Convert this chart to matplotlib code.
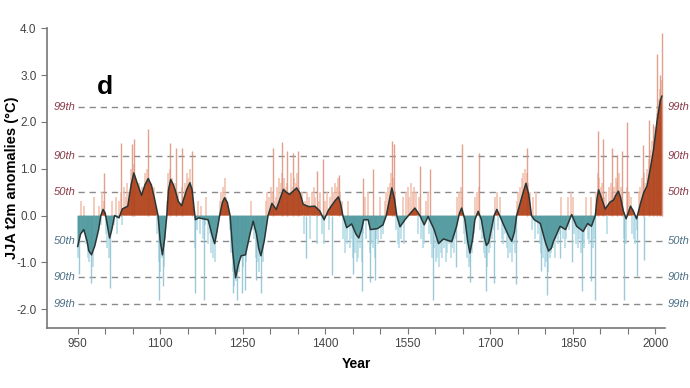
import numpy as np
import matplotlib
matplotlib.use("Agg")
import matplotlib.pyplot as plt

plt.rcParams["font.family"] = ["Liberation Sans", "DejaVu Sans"]

# smoothed series (knots)
smooth_years = [950, 955, 961, 967, 970, 975, 981, 988, 992, 996, 1000, 1003, 1008, 1012, 1017,
                1025, 1031, 1041, 1047, 1052, 1058, 1066, 1072, 1078, 1084, 1090, 1096, 1100,
                1104, 1108, 1112, 1115, 1119, 1123, 1127, 1133, 1139, 1148, 1154, 1158, 1162,
                1164, 1170, 1178, 1187, 1195, 1199, 1203, 1208, 1213, 1217, 1222, 1227, 1232,
                1237, 1242, 1247, 1255, 1264, 1269, 1275, 1279, 1283, 1289, 1296, 1303, 1311,
                1319, 1324, 1329, 1335, 1348, 1354, 1360, 1370, 1381, 1390, 1398, 1406, 1418,
                1424, 1428, 1432, 1439, 1448, 1456, 1461, 1466, 1470, 1478, 1482, 1495, 1505,
                1511, 1517, 1521, 1526, 1530, 1536, 1545, 1557, 1563, 1572, 1580, 1587, 1598,
                1606, 1615, 1630, 1639, 1644, 1648, 1654, 1659, 1663, 1668, 1672, 1678, 1684,
                1689, 1693, 1697, 1700, 1707, 1712, 1717, 1724, 1734, 1739, 1744, 1748, 1760,
                1765, 1770, 1775, 1780, 1791, 1801, 1806, 1811, 1815, 1827, 1837, 1848, 1857,
                1869, 1877, 1884, 1891, 1894, 1897, 1901, 1909, 1918, 1924, 1929, 1933, 1937,
                1942, 1947, 1955, 1960, 1966, 1973, 1979, 1985, 1991, 1997, 2003, 2009, 2012]
smooth_vals = [-0.66, -0.40, -0.30, -0.55, -0.75, -0.84, -0.65, -0.30, 0.0, 0.13, 0.05, -0.15, -0.48, -0.30, 0.0,
               -0.05, 0.14, 0.20, 0.65, 0.91, 0.70, 0.43, 0.65, 0.79, 0.65, 0.34, 0.0, -0.55,
               -0.84, -0.50, 0.0, 0.55, 0.77, 0.68, 0.55, 0.30, 0.21, 0.55, 0.70, 0.55, 0.10,
               -0.09, -0.05, -0.07, -0.09, -0.45, -0.60, -0.35, 0.0, 0.28, 0.38, 0.28, 0.0, -0.80,
               -1.33, -1.05, -0.86, -0.84, -0.35, -0.12, -0.40, -0.70, -0.86, -0.55, 0.0, 0.26, 0.13,
               0.40, 0.56, 0.50, 0.45, 0.59, 0.48, 0.24, 0.19, 0.20, 0.10, -0.09, 0.12, 0.32,
               0.40, 0.25, 0.0, -0.26, -0.18, -0.40, -0.48, -0.30, -0.09, -0.09, -0.30, -0.28, -0.20,
               0.0, 0.35, 0.59, 0.35, 0.0, -0.24, -0.09, 0.08, 0.16, 0.0, -0.20, -0.02, -0.30,
               -0.60, -0.50, -0.56, -0.22, 0.05, 0.16, -0.09, -0.55, -0.80, -0.50, -0.09, 0.09, -0.09,
               -0.45, -0.64, -0.58, -0.41, 0.0, 0.13, 0.0, -0.19, -0.45, -0.55, -0.35, 0.0, 0.50,
               0.69, 0.45, 0.0, -0.09, -0.17, -0.60, -0.76, -0.70, -0.55, -0.23, -0.30, 0.02, -0.23,
               -0.34, -0.17, -0.23, 0.0, 0.35, 0.55, 0.42, 0.14, 0.29, 0.33, 0.45, 0.52, 0.38,
               0.10, -0.07, 0.20, 0.10, -0.07, 0.25, 0.49, 0.63, 1.00, 1.41, 2.00, 2.45, 2.55]

# background annual bars, one every 3 years from 950
haze_vals = [
    -0.9, -0.5, 0.3, -0.3, 0.2, -0.6, -0.9, -1.0, -0.7, -1.1,
    0.4, -0.5, -0.3, 0.2, -0.2, 0.5, 0.3, -0.4, -0.7, -0.9,
    -0.3, 0.3, -0.2, 0.4, -0.4, 0.3, 0.5, -0.2, 0.6, 0.4,
    0.7, 0.5, 1.0, 0.9, 1.1, 0.8, 0.6, 0.7, 0.3, 0.6,
    0.5, 0.9, 1.0, 0.8, 0.7, 0.4, 0.6, 0.2, -0.4, -1.0,
    -1.2, -0.9, -1.1, -0.5, 0.3, 0.9, 1.0, 0.8, 0.6, 0.7,
    0.4, 0.5, 0.2, 0.6, 0.4, 0.7, 0.9, 0.8, 1.0, 0.6,
    0.3, -0.7, -0.3, 0.3, -0.4, 0.2, -0.5, -0.2, 0.4, -0.6,
    -0.4, -0.8, -0.9, -1.0, -0.5, -0.2, 0.3, 0.5, 0.6, 0.8,
    0.4, 0.2, -0.3, -0.8, -1.2, -1.5, -1.4, -1.0, -1.2, -0.9,
    -1.1, -0.8, -1.0, -0.6, -0.4, 0.3, -0.3, -0.5, -0.9, -1.0,
    -1.2, -0.8, -1.0, -0.4, 0.3, 0.5, 0.4, 0.6, 0.5, 0.3,
    0.4, 0.6, 0.8, 0.7, 0.9, 0.8, 0.6, 0.7, 0.5, 0.9,
    0.6, 0.8, 0.7, 0.9, 0.6, 0.4, 0.5, -0.4, 0.3, 0.5,
    0.4, -0.5, 0.5, 0.6, 0.4, -0.6, 0.3, 0.5, -0.4, -0.6,
    0.3, 0.5, -0.3, 0.4, 0.6, 0.5, 0.7, 0.6, 0.8, 0.5,
    0.3, -0.5, -0.8, -0.6, 0.3, -0.7, -0.5, -0.9, -0.8, -1.0,
    -0.9, -0.7, -1.0, -0.4, 0.4, -0.5, 0.5, -0.8, -0.6, -0.7,
    -0.9, -0.5, -0.6, 0.4, -0.5, -0.4, 0.3, 0.5, 0.6, 0.7,
    0.9, 0.8, 0.5, -0.3, -0.6, -0.7, -0.5, 0.4, -0.6, 0.5,
    0.6, 0.4, 0.7, 0.5, 0.6, 0.5, -0.4, 0.4, -0.5, -0.7,
    -0.6, 0.3, 0.5, -0.4, -0.6, -0.9, -0.7, -1.0, -0.9, -1.1,
    -0.8, -0.9, -0.7, -1.0, -0.8, -0.6, -0.9, -0.7, -0.8, -0.5,
    0.4, 0.5, 0.6, 0.4, -0.4, -0.6, -0.9, -1.1, -1.0, -0.8,
    -0.4, 0.4, 0.5, 0.6, -0.3, -0.5, -0.8, -0.9, -1.1, -0.8,
    -0.7, -0.5, -0.3, 0.4, 0.5, -0.3, 0.4, -0.5, -0.6, -0.4,
    -0.7, -0.9, -0.8, -1.0, -0.6, -0.8, 0.3, 0.5, 0.6, 0.8,
    0.9, 1.0, 0.9, 0.7, 0.5, -0.3, 0.4, -0.5, 0.5, -0.4,
    -0.6, -0.8, -0.9, -1.1, -1.0, -1.2, -0.9, -0.8, -0.7, -0.9,
    -0.5, -0.6, -0.4, 0.4, -0.5, -0.7, -0.5, 0.4, -0.3, 0.5,
    0.4, -0.4, -0.6, -0.7, -0.5, -0.8, -0.6, -0.7, 0.4, -0.5,
    -0.6, 0.4, -0.7, -0.5, 0.5, 0.9, 0.8, 0.6, 0.7, 0.4,
    0.5, -0.4, 0.6, 0.7, 0.5, 0.6, 0.8, 0.7, 0.9, 0.6,
    0.5, -0.5, -0.6, 0.6, 0.5, 0.4, -0.4, -0.5, -0.6, -0.3,
    0.5, 0.6, 0.8, 0.9, 0.7, 1.0, 1.2, 1.4, 1.6, 1.7,
    1.9, 2.2, 2.5, 2.7, 2.9,
]

# individual extreme years
spike_years = [952, 975, 997, 1009, 1029, 1048, 1052, 1078, 1097, 1105, 1118, 1129, 1140, 1157,
               1163, 1179, 1233, 1239, 1248, 1255, 1275, 1284, 1305, 1322, 1330, 1342, 1351,
               1365, 1385, 1396, 1412, 1425, 1451, 1466, 1469, 1481, 1486, 1490, 1521, 1525,
               1573, 1590, 1596, 1637, 1649, 1663, 1680, 1693, 1707, 1747, 1767, 1792, 1803,
               1827, 1848, 1867, 1884, 1891, 1895, 1905, 1921, 1930, 1940, 1944, 1948, 1967,
               1978, 1980, 1988, 1996, 2003, 2008, 2012]
spike_vals = [-1.24, -1.44, 0.91, -1.55, 1.56, 1.52, 1.64, 1.84, -1.80, -1.50, 1.56, 1.45, 1.45, 1.38,
              -1.66, -1.80, -1.66, -1.80, -1.66, -1.60, -1.37, -1.66, 1.45, 1.58, 1.38, 1.34, 1.38,
              -0.90, 0.95, 1.20, -1.26, 0.86, -1.25, -1.62, 0.80, -1.41, 1.00, -1.37, 1.59, 1.52,
              1.06, 0.99, -1.80, -1.10, 1.52, -1.41, 1.34, -1.62, -1.44, -1.46, 1.45, -1.19, -1.69,
              -0.90, -1.00, -1.62, -1.40, -1.80, 1.81, 1.63, 1.45, 1.30, 1.38, -1.80, 2.00, -1.30,
              1.50, -0.95, 2.05, 1.95, 3.45, 3.00, 3.90]

pct_vals = [2.31, 1.27, 0.50, -0.55, -1.31, -1.88]
pct_labels = ["99th", "90th", "50th", "50th", "90th", "99th"]

red_fill = "#b0431c"
teal_fill = "#4f979c"

fig = plt.figure(figsize=(6.9, 3.88), dpi=100)
ax = fig.add_axes([0.068, 0.155, 0.896, 0.772])

haze_years = np.arange(950, 950 + 3 * len(haze_vals), 3)
hv = np.array(haze_vals)
ax.vlines(haze_years[hv > 0], 0, hv[hv > 0], color="#f1bba8", lw=1.4, alpha=0.75, zorder=1)
ax.vlines(haze_years[hv < 0], 0, hv[hv < 0], color="#acd8e4", lw=1.4, alpha=0.75, zorder=1)

sy = np.array(spike_years)
sv = np.array(spike_vals)
ax.vlines(sy[sv > 0], 0, sv[sv > 0], color="#dc9179", lw=1.0, alpha=0.85, zorder=1)
ax.vlines(sy[sv < 0], 0, sv[sv < 0], color="#8cc0cf", lw=1.0, alpha=0.85, zorder=1)

xs = np.array(smooth_years)
ys = np.array(smooth_vals)
ax.fill_between(xs, 0, ys, where=ys >= 0, interpolate=True, color=red_fill, alpha=0.92, lw=0, zorder=2)
ax.fill_between(xs, 0, ys, where=ys <= 0, interpolate=True, color=teal_fill, alpha=0.92, lw=0, zorder=2)
ax.plot(xs, ys, color="#2a3535", lw=1.1, zorder=3, solid_joinstyle="round")

# percentile lines
for i, (v, lab) in enumerate(zip(pct_vals, pct_labels)):
    col = "#8a3a48" if i < 3 else "#4d7186"
    ax.hlines(v, 950, 2014, color="#8a8a8a", lw=1.0, linestyles=(0, (4.5, 3.5)), zorder=0)
    ax.text(946, v, lab, color=col, fontsize=8, style="italic", ha="right", va="center")
    ax.text(2022, v, lab, color=col, fontsize=8, style="italic", ha="left", va="center",
            clip_on=False)

ax.text(999, 2.74, "d", fontsize=19, fontweight="bold", ha="center", va="center")

ax.set_xlim(894, 2018)
ax.set_ylim(-2.4, 4.0)
ax.set_yticks([-2, -1, 0, 1, 2, 3, 4])
ax.set_yticklabels(["-2.0", "-1.0", "0.0", "1.0", "2.0", "3.0", "4.0"])
ax.set_xticks(np.arange(950, 2001, 50))
ax.set_xticklabels([str(y) if (y - 950) % 150 == 0 else "" for y in range(950, 2001, 50)])

for s in ["top", "right"]:
    ax.spines[s].set_visible(False)
for s in ["left", "bottom"]:
    ax.spines[s].set_color("#777777")
    ax.spines[s].set_linewidth(1.2)
ax.tick_params(colors="#777777", labelcolor="#444444", labelsize=8.5, length=4)

ax.set_ylabel("JJA t2m anomalies (\u00b0C)", fontsize=10.5, fontweight="bold")
ax.yaxis.set_label_coords(-0.045, 0.5)
ax.set_xlabel("Year", fontsize=10, fontweight="bold", labelpad=5)

fig.savefig("out.png", dpi=100)
